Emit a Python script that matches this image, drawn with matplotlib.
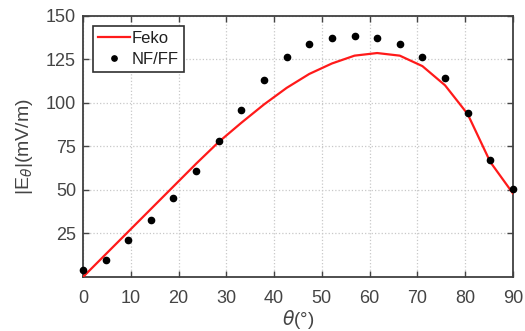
import numpy as np
import matplotlib
matplotlib.use("Agg")
from matplotlib import pyplot as plt

plt.rcParams['font.family'] = ['Liberation Sans', 'DejaVu Sans']

# theta grid (deg) shared by both series
theta = np.linspace(0, 90, 20)

# Feko simulation
feko = [0, 13, 26, 39, 52, 65, 77.5, 88.5, 99, 108.5, 116.5, 122.5,
        127, 128.5, 127, 121, 110, 93.5, 66, 48]

# NF/FF measurement
nfff = [4, 10, 21, 32.5, 45.5, 61, 78, 96, 113, 126, 133.5, 137,
        138, 137, 133.5, 126.5, 114, 94, 67, 50.5]

xticks = list(range(0, 91, 10))
yticks = [25, 50, 75, 100, 125, 150]

txt = '#444444'
fig = plt.figure(figsize=(5.25, 3.31), dpi=100)
ax = fig.add_axes([0.158, 0.163, 0.819, 0.79])

ax.plot(theta, feko, color='#ff1a1a', lw=1.6, label='Feko', zorder=3)
ax.plot(theta, nfff, 'o', color='black', ms=4.5, label='NF/FF', zorder=4,
        clip_on=False)

ax.set_xlim(0, 90)
ax.set_ylim(0, 150)
ax.set_xticks(xticks)
ax.set_yticks(yticks)
ax.grid(True, linestyle=':', color='#c8c8c8', lw=0.9)
ax.tick_params(direction='in', top=True, right=True, labelsize=13,
               colors=txt, length=4, width=1)
ax.tick_params(axis='x', pad=9)
ax.tick_params(axis='y', pad=5)
for s in ax.spines.values():
    s.set_color('#404040')
    s.set_linewidth(1.3)

ax.set_xlabel(r'$\theta$(°)', fontsize=13.5, color=txt, labelpad=1)
ax.set_ylabel(r'|E$_{\theta}$|(mV/m)', fontsize=14, color=txt, labelpad=8)

leg = ax.legend(loc='upper left', fontsize=12, fancybox=False,
                edgecolor='#303030', framealpha=1, borderpad=0.3,
                handlelength=1.9, handletextpad=0.15, borderaxespad=0.6,
                labelspacing=0.38, markerscale=0.85)
leg.get_frame().set_linewidth(1.2)
for t in leg.get_texts():
    t.set_color('#202020')

fig.savefig('out.png', dpi=100)
